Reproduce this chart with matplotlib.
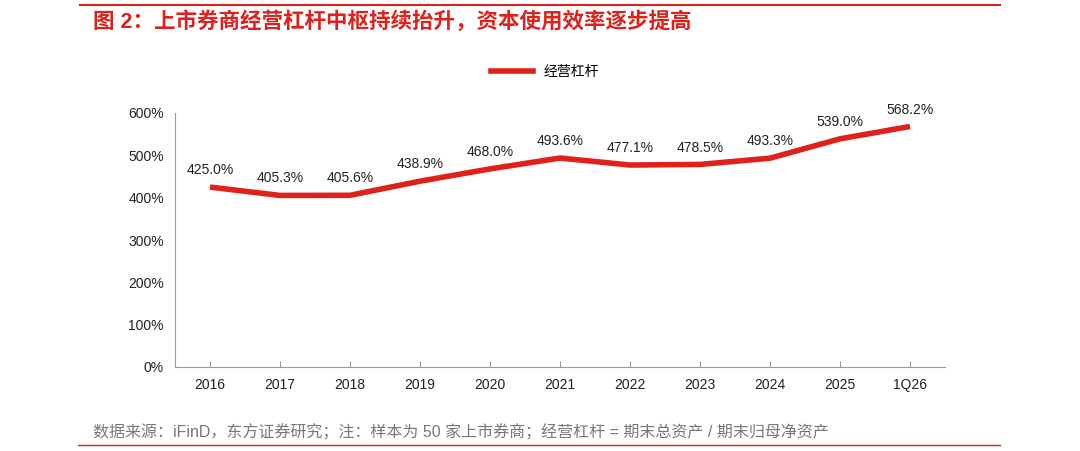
import matplotlib.pyplot as plt
from matplotlib.lines import Line2D

plt.rcParams['font.family'] = ['Liberation Sans', 'Noto Sans CJK SC', 'DejaVu Sans']

years = ['2016', '2017', '2018', '2019', '2020', '2021', '2022', '2023', '2024', '2025', '1Q26']
leverage = [425.0, 405.3, 405.6, 438.9, 468.0, 493.6, 477.1, 478.5, 493.3, 539.0, 568.2]

RED = '#e0201b'
W, H = 1080, 451

fig = plt.figure(figsize=(W / 100, H / 100), dpi=100)
ax = fig.add_axes([175 / W, 1 - 367 / H, (945 - 175) / W, (367 - 113) / H])

x = list(range(len(years)))
ax.plot(x, leverage, color=RED, lw=4, solid_capstyle='butt', label='经营杠杆')
for xi, v in zip(x, leverage):
    ax.text(xi, v + 40, f'{v:.1f}%', ha='center', va='center', fontsize=10, color='#222222')

ax.set_xlim(-0.5, len(years) - 0.5)
ax.set_ylim(0, 600)
ax.set_xticks(x)
ax.set_xticklabels(years)
ax.set_yticks(range(0, 601, 100))
ax.set_yticklabels([f'{t}%' for t in range(0, 601, 100)])
ax.tick_params(labelsize=10, length=0, pad=8, colors='#222222')
for s in ['top', 'right']:
    ax.spines[s].set_visible(False)
for s in ['left', 'bottom']:
    ax.spines[s].set_color('#999999')
ax.tick_params(axis='x', length=4, color='#999999', direction='in')

handle = Line2D([], [], color=RED, lw=4)
fig.legend([handle], ['经营杠杆'], loc='center', bbox_to_anchor=(545 / W, 1 - 72 / H),
           frameon=False, fontsize=10, handlelength=3)

fig.text(93 / W, 1 - 22 / H, '图 2：上市券商经营杠杆中枢持续抬升，资本使用效率逐步提高',
         color=RED, fontsize=15.5, fontweight='bold', va='center')
fig.add_artist(Line2D([80 / W, 1000 / W], [1 - 5 / H] * 2, color=RED, lw=1.5))
fig.text(93 / W, 1 - 432 / H,
         '数据来源：iFinD，东方证券研究；注：样本为 50 家上市券商；经营杠杆 = 期末总资产 / 期末归母净资产',
         color='#777777', fontsize=11.5, va='center')
fig.add_artist(Line2D([78 / W, 1000 / W], [1 - 445 / H] * 2, color=RED, lw=1))

fig.savefig('out.png', dpi=100)
